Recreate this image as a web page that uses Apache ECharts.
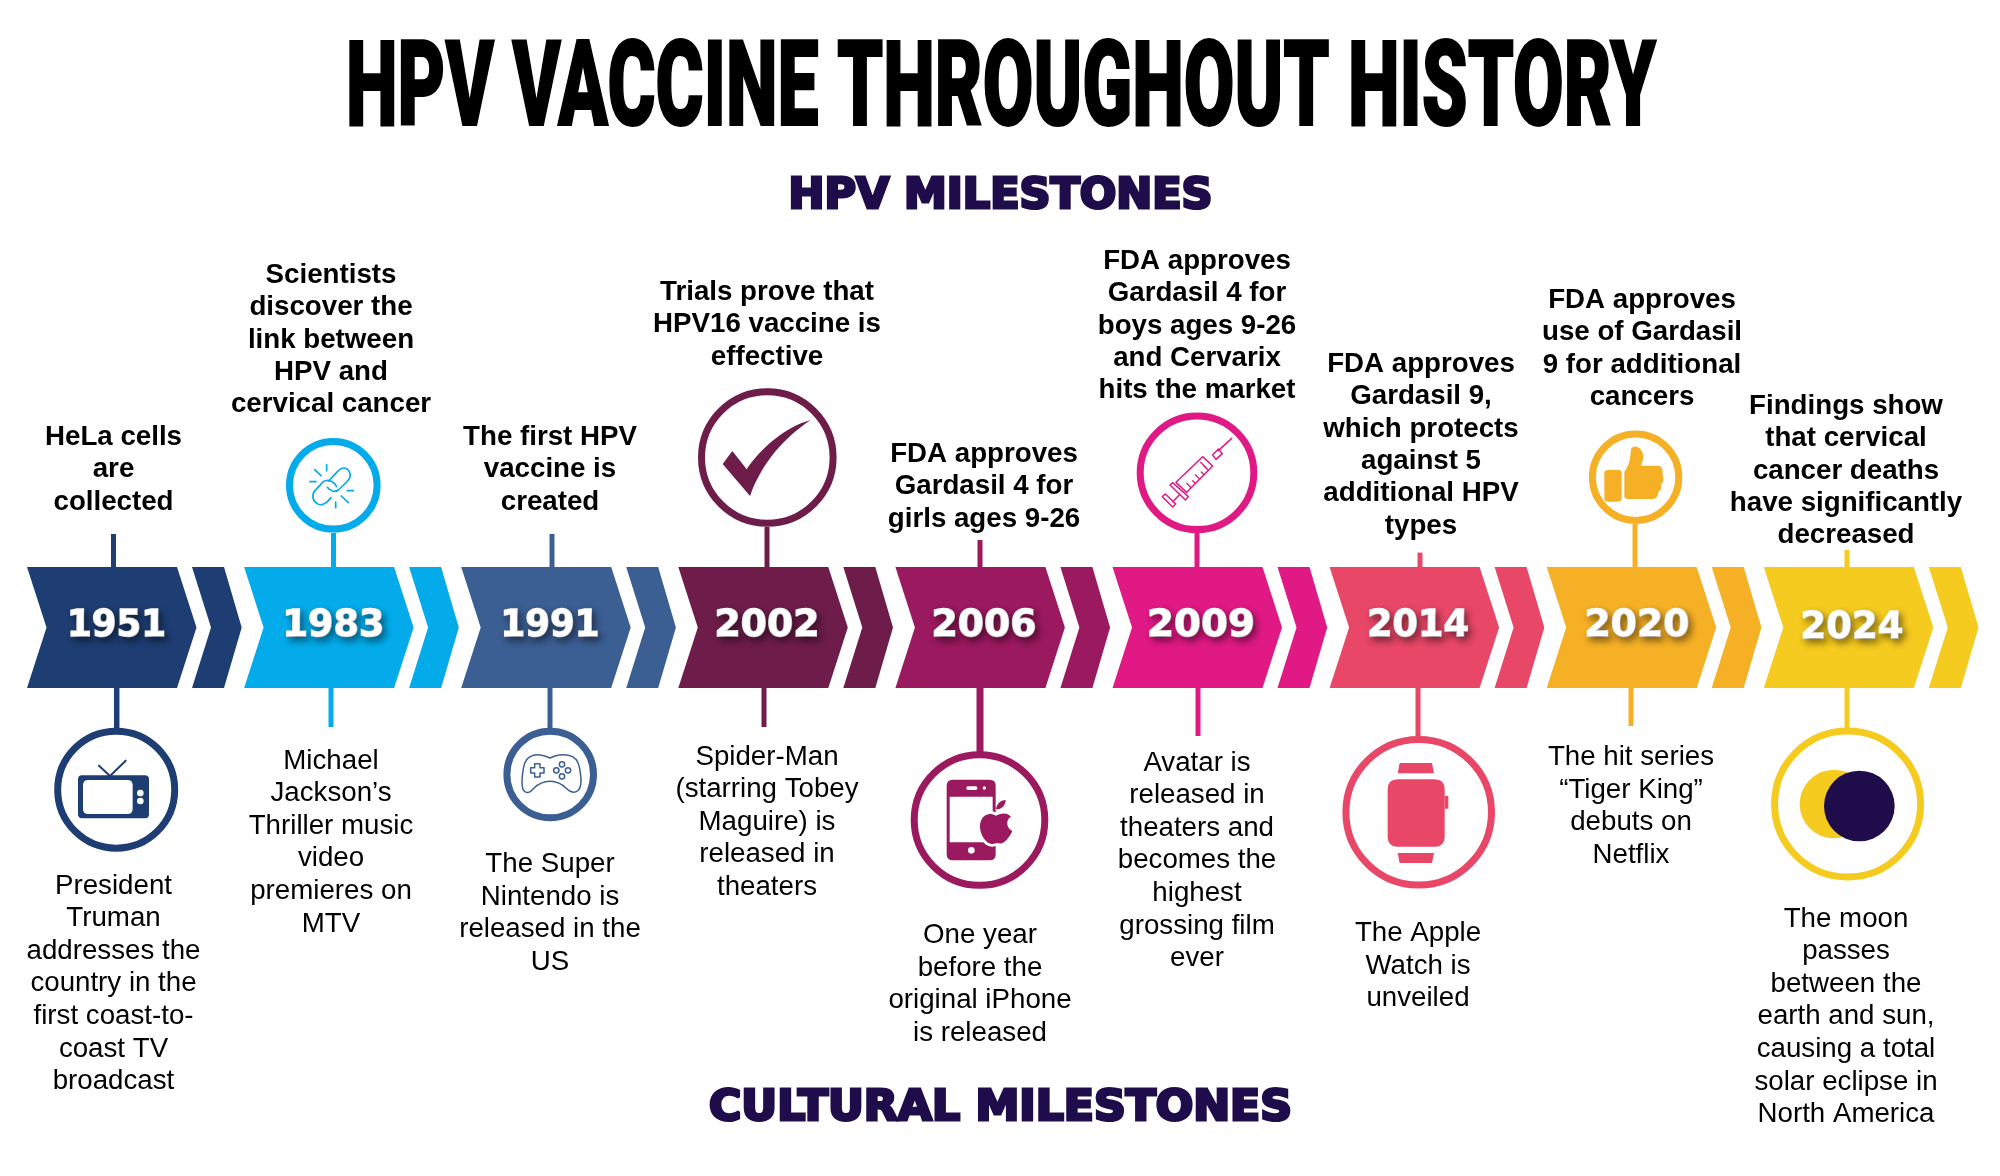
<!DOCTYPE html>
<html><head><meta charset="utf-8">
<style>html,body{margin:0;padding:0;background:#fff}#c{width:2000px;height:1176px}</style>
<script src="https://cdn.jsdelivr.net/npm/echarts@6/dist/echarts.min.js"></script>
</head><body><div id="c"></div>
<script>
const mainTitle = 'HPV VACCINE THROUGHOUT HISTORY';
const upperHeading = 'HPV MILESTONES';
const lowerHeading = 'CULTURAL MILESTONES';
const years = ['1951','1983','1991','2002','2006','2009','2014','2020','2024'];
const hpvMilestones = [
  'HeLa cells\nare\ncollected',
  'Scientists\ndiscover the\nlink between\nHPV and\ncervical cancer',
  'The first HPV\nvaccine is\ncreated',
  'Trials prove that\nHPV16 vaccine is\neffective',
  'FDA approves\nGardasil 4 for\ngirls ages 9-26',
  'FDA approves\nGardasil 4 for\nboys ages 9-26\nand Cervarix\nhits the market',
  'FDA approves\nGardasil 9,\nwhich protects\nagainst 5\nadditional HPV\ntypes',
  'FDA approves\nuse of Gardasil\n9 for additional\ncancers',
  'Findings show\nthat cervical\ncancer deaths\nhave significantly\ndecreased'
];
const culturalMilestones = [
  'President\nTruman\naddresses the\ncountry in the\nfirst coast-to-\ncoast TV\nbroadcast',
  'Michael\nJackson\u2019s\nThriller music\nvideo\npremieres on\nMTV',
  'The Super\nNintendo is\nreleased in the\nUS',
  'Spider-Man\n(starring Tobey\nMaguire) is\nreleased in\ntheaters',
  'One year\nbefore the\noriginal iPhone\nis released',
  'Avatar is\nreleased in\ntheaters and\nbecomes the\nhighest\ngrossing film\never',
  'The Apple\nWatch is\nunveiled',
  'The hit series\n\u201cTiger King\u201d\ndebuts on\nNetflix',
  'The moon\npasses\nbetween the\nearth and sun,\ncausing a total\nsolar eclipse in\nNorth America'
];
const colors = ['#1e3d73','#03abea','#3b5e93','#6e1d4b','#9b195f','#e01984','#e84767','#f6b026','#f6cb1f'];
const inkDark = '#1f0c4a';

// layout, in axis units (the hidden axes run 0-2000 and 0-1176)
const upperX = [113.5,331,550,767,984,1197,1421,1642,1846];
const upperY = [437.5,275.5,437.5,292.5,454.5,261.5,364.5,300.5,406.5];
const lowerX = [113.5,331,550,767,980,1197,1418,1631,1846];
const lowerY = [886,761,864.5,757,935.5,763,933.5,757.5,919];
const topLineX = [113.5,333.5,552,767,980,1197,1420,1635,1847];
const topLineEnd = [534,533,534,527,540,533,552.6,524,550];
const bottomLineX = [116.7,331,550,764,980,1198,1418,1631,1847];
const bottomLineEnd = [728,727,728,727,752,736,736,726,728];
const bottomLineW = [5.5,5,5,5,7,5,5,5,5];
const yearX = [116.5,333.5,550,767,984,1201,1418,1637,1852];
const yearY = [626,626,626,626,626,626,626,626,628];
const yearW = [99,102,99,105,105,108,102,105,103];
const ringX = [116.2,333.3,550.2,767.3,979.5,1197,1418.7,1635.6,1847.6];
const ringY = [789.7,485.3,774.5,457.5,820,472.8,812.3,477.3,804];
const ringR = [62,47.3,46.8,69.3,68.8,60.3,76.3,46.7,76.5];
const iconOrigin = [[45,720],[270,430],[495,722],[690,380],[905,745],[1130,405],[1335,730],[1575,425],[1790,760]];
const iconScale = 1/3;
const chevLeft = 27, chevPeriod = 217.1, chevTop = 567, chevBottom = 688;

const circ = (x,y,r)=>`M${x-r} ${y}a${r} ${r} 0 1 0 ${2*r} 0a${r} ${r} 0 1 0 ${-2*r} 0Z`;
const rrect = (x0,y0,x1,y1,r)=>`M${x0+r} ${y0}L${x1-r} ${y0}Q${x1} ${y0} ${x1} ${y0+r}L${x1} ${y1-r}Q${x1} ${y1} ${x1-r} ${y1}L${x0+r} ${y1}Q${x0} ${y1} ${x0} ${y1-r}L${x0} ${y0+r}Q${x0} ${y0} ${x0+r} ${y0}Z`;
const appleBody = 'M272 212C255 200 228 208 225 240C223 270 245 298 262 297C270 296 275 292 282 295C295 300 312 280 322 258C305 250 300 225 318 215C305 200 285 205 272 212Z';
// icon parts: f=fill colour key, s=stroke width, o=white halo width; coordinates are in 3x-icon units
const iconParts = [
  [ {d:rrect(99,166,312,295,12),f:'c'}, {d:rrect(114,180,263,282,16),f:'w'}, {d:circ(286,219,10),f:'w'}, {d:circ(286,243,10),f:'w'},
    {d:'M162 137L195 168L242 122',s:6} ],
  [ {d:'M176 153L205 122C215 110 232 112 238 125C245 138 238 148 230 156L205 180C195 188 180 183 172 172',s:5},
    {d:'M200 170C192 155 175 145 160 155L135 182C125 193 127 212 140 220C152 228 165 222 172 215L183 203',s:5},
    {d:'M134 119L153 137M170 104L170 122M120 155L138 155M232 182L250 182M214 198L235 218M197 216L197 233',s:5} ],
  [ {d:'M115 100C130 95 145 100 165 108C180 100 205 95 220 100C240 103 250 115 254 140C258 165 262 190 250 205C240 215 225 210 215 200C200 185 185 178 165 178C145 178 130 185 115 200C105 212 95 215 88 208C78 198 80 170 85 140C88 120 95 105 115 100Z',s:4.5},
    {d:'M119 125L135 125L135 137L147 137L147 153L135 153L135 165L119 165L119 153L107 153L107 137L119 137Z',s:4.5},
    {d:circ(201,127,8)+circ(219,145,8)+circ(201,163,8)+circ(184,145,8),s:4.5} ],
  [ {d:'M98 252L127 213L170 268C215 200 290 140 362 120C280 175 215 250 180 348Z',f:'c'} ],
  [ {d:rrect(125,104,272,346,18),f:'c'}, {d:'M134 155L263 155L263 292L134 292Z',f:'w'},
    {d:rrect(184,124,217,135,5),f:'w'}, {d:circ(238,129,5),f:'w'}, {d:circ(199,316,10),f:'w'},
    {d:appleBody,f:'w',o:16}, {d:appleBody,f:'c'},
    {d:'M273 192C275 175 290 165 302 165C302 182 288 195 273 192Z',f:'c'} ],
  [ {d:'M305 100L265 137',s:4.5}, {d:'M248 150L265 132L277 146L258 163Z',s:4.5},
    {d:'M218 155L248 183L170 262L138 232Z',s:4.5}, {d:'M120 240L128 233L175 275L166 285Z',s:4.5},
    {d:'M150 268L128 290',s:4.5}, {d:'M97 275L106 267L137 297L128 306Z',s:4.5},
    {d:'M235 196L222 183M222 209L214 201M209 222L196 209M196 235L188 227M183 248L170 235',s:4},
    {d:'M212 172L228 188',s:4} ],
  [ {d:rrect(158,148,329,350,30),f:'c'}, {d:'M329 198L340 198L340 236L329 236Z',f:'c'},
    {d:'M194 99L291 99L297 130L188 130Z',f:'c'}, {d:'M188 369L297 369L291 399L194 399Z',f:'c'} ],
  [ {d:rrect(88,135,140,230,10),f:'c'},
    {d:'M148 215L148 140C160 125 165 110 168 75C170 60 195 60 203 85C207 100 203 110 198 122L250 122C262 122 265 140 262 150C268 160 265 172 258 178C262 190 255 198 250 200C250 215 242 222 230 222L165 222C155 222 148 220 148 215Z',f:'c'} ],
  [ {d:circ(132,132,103),f:'c'}, {d:circ(208,138,106),f:'d'} ]
];

const bodyFont = '"Liberation Sans", Arial, sans-serif';
const yearFont = 'bold 38px "DejaVu Sans"';
const titleFont = '900 118px Roboto,"Liberation Sans"';
const headFont = 'bold 42px "DejaVu Sans"';
const upperLH = 32.3, lowerLH = 32.6;
const meas = document.createElement('canvas').getContext('2d');
function fit(text, font, w){ meas.font = font; return w / meas.measureText(text).width; }

function pts(api, list){ return list.map(p => api.coord(p)); }

function renderMilestone(params, api){
  const i = params.dataIndex, col = colors[i], x0 = chevLeft + i*chevPeriod, mid = (chevTop+chevBottom)/2;
  const kids = [];
  const rect = (cx,y0,y1,w)=>{ const a=api.coord([cx-w/2,Math.min(y0,y1)]), b=api.coord([cx+w/2,Math.max(y0,y1)]);
    kids.push({type:'rect',shape:{x:a[0],y:a[1],width:b[0]-a[0],height:b[1]-a[1]},style:{fill:col}}); };
  rect(topLineX[i], topLineEnd[i], chevTop+1, 5);
  rect(bottomLineX[i], chevBottom-1, bottomLineEnd[i], bottomLineW[i]);
  kids.push({type:'polygon',shape:{points:pts(api,[[x0,chevTop],[x0+150,chevTop],[x0+169.5,mid],[x0+150,chevBottom],[x0,chevBottom],[x0+19.5,mid]])},style:{fill:col}});
  kids.push({type:'polygon',shape:{points:pts(api,[[x0+165,chevTop],[x0+197,chevTop],[x0+214.7,mid],[x0+197,chevBottom],[x0+165,chevBottom],[x0+184,mid]])},style:{fill:col}});
  const c = api.coord([ringX[i],ringY[i]]);
  kids.push({type:'circle',shape:{cx:c[0],cy:c[1],r:ringR[i]-3.5},style:{fill:'#fff',stroke:col,lineWidth:7}});
  const o = api.coord(iconOrigin[i]);
  iconParts[i].forEach(p=>{
    const fill = p.f==='c'?col:p.f==='w'?'#fff':p.f==='d'?inkDark:'none';
    kids.push({type:'path',shape:{pathData:p.d},x:o[0],y:o[1],scaleX:iconScale,scaleY:iconScale,
      style:{fill:fill,stroke:p.s?col:(p.o?'#fff':'none'),lineWidth:p.s||p.o||0,lineCap:'round',lineJoin:'round'}});
  });
  const u = api.coord([upperX[i],upperY[i]-upperLH/2]), l = api.coord([lowerX[i],lowerY[i]-lowerLH/2]);
  kids.push({type:'text',x:u[0],y:u[1],style:{text:hpvMilestones[i],align:'center',verticalAlign:'top',textAlign:'center',textVerticalAlign:'top',lineHeight:upperLH,font:'bold 27.7px '+bodyFont,fill:'#000'}});
  kids.push({type:'text',x:l[0],y:l[1],style:{text:culturalMilestones[i],align:'center',verticalAlign:'top',textAlign:'center',textVerticalAlign:'top',lineHeight:lowerLH,font:'27.7px '+bodyFont,fill:'#000'}});
  const yc = api.coord([yearX[i],yearY[i]]);
  kids.push({type:'text',x:yc[0],y:yc[1],scaleX:fit(years[i],yearFont,yearW[i]),style:{text:years[i],align:'center',verticalAlign:'middle',textAlign:'center',textVerticalAlign:'middle',font:yearFont,fill:'#fff',stroke:'#fff',lineWidth:1.5,textShadowColor:'rgba(0,0,0,0.45)',textShadowBlur:7,textShadowOffsetX:3,textShadowOffsetY:4}});
  return {type:'group',children:kids};
}

const textEl = (text,font,cx,cy,w,fill,lw)=>({type:'text',x:cx,y:cy,scaleX:fit(text,font,w),silent:true,z:10,
  style:{text:text,font:font,fill:fill,stroke:fill,lineWidth:lw,lineJoin:'miter',align:'center',verticalAlign:'middle',textAlign:'center',textVerticalAlign:'middle'}});

const chart = echarts.init(document.getElementById('c'),null,{renderer:'canvas',width:2000,height:1176});
chart.setOption({
  animation:false,
  backgroundColor:'#fff',
  grid:{left:0,right:0,top:0,bottom:0},
  xAxis:{type:'value',min:0,max:2000,show:false},
  yAxis:{type:'value',min:0,max:1176,inverse:true,show:false},
  series:[{type:'custom',coordinateSystem:'cartesian2d',clip:false,silent:true,
    data:years.map((y,i)=>[i,0]),renderItem:renderMilestone}],
  graphic:[
    textEl(mainTitle,titleFont,1001,95,1310,'#000',2),
    textEl(upperHeading,headFont,1000.5,197,424,inkDark,3),
    textEl(lowerHeading,headFont,1000.5,1109,583,inkDark,3)
  ]
});
</script></body></html>
